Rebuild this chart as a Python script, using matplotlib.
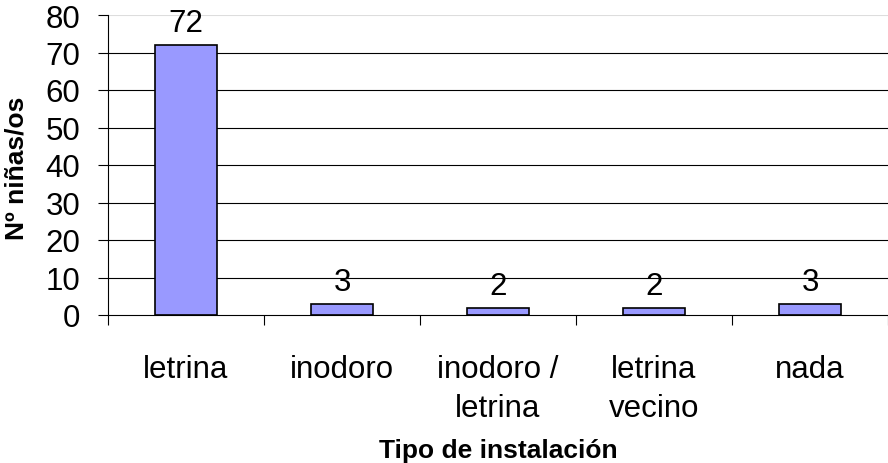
import matplotlib

matplotlib.use("Agg")
import matplotlib.pyplot as plt
import numpy as np

categories = ["letrina", "inodoro", "inodoro /\nletrina", "letrina\nvecino", "nada"]
values = [72, 3, 2, 2, 3]
yticks = [0, 10, 20, 30, 40, 50, 60, 70, 80]

plt.rcParams["font.family"] = ["Liberation Sans", "DejaVu Sans"]
FS = 22.5

fig = plt.figure(figsize=(8.88, 4.64), dpi=100)
ax = fig.add_axes([108 / 888, 1 - 316 / 464, 780 / 888, 300 / 464])

x = np.arange(len(categories))
ax.bar(x, values, width=0.4, color="#9999FF", edgecolor="black", linewidth=1.2, zorder=3)
for xi, v in zip(x, values):
    ax.annotate(str(v), (xi, v), xytext=(0, 10), textcoords="offset points",
                ha="center", va="baseline", fontsize=FS, zorder=4)

ax.set_xlim(-0.5, len(categories) - 0.5)
ax.set_ylim(0, 80)
ax.set_yticks(yticks)
ax.tick_params(axis="y", labelsize=FS, length=7, width=0.8, pad=13)
ax.set_xticks(x)
ax.set_xticklabels(categories, fontsize=FS, linespacing=1.4)
ax.tick_params(axis="x", which="major", length=0, pad=28)
ax.set_xticks(np.arange(len(categories) + 1) - 0.5, minor=True)
ax.tick_params(axis="x", which="minor", length=7, width=0.8)

for yv in yticks[1:-1]:
    ax.axhline(yv, color="black", linewidth=0.8, zorder=1)
ax.axhline(80, color="#dddddd", linewidth=0.8, zorder=1)

for s in ["top", "right"]:
    ax.spines[s].set_visible(False)
ax.spines["left"].set_linewidth(0.8)
ax.spines["bottom"].set_linewidth(0.8)
ax.spines["bottom"].set_zorder(5)

fig.text(16 / 888, 1 - 168 / 464, "Nº niñas/os", rotation=90, ha="center", va="center",
         fontsize=19, fontweight="bold")
fig.text(498 / 888, 1 - 458 / 464, "Tipo de instalación", ha="center", va="baseline",
         fontsize=19, fontweight="bold")

fig.savefig("out.png", dpi=100)
